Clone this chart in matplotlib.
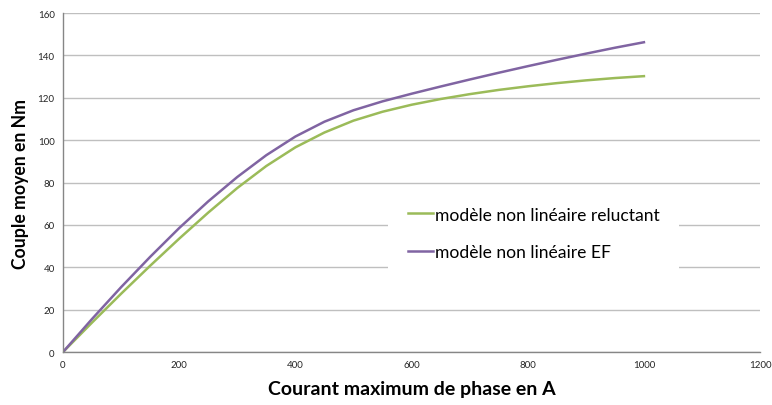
import matplotlib

matplotlib.use("Agg")
import matplotlib.pyplot as plt

plt.rcParams["font.family"] = ["Lato", "DejaVu Sans"]

# Courant maximum de phase (A)
courant = [0, 50, 100, 150, 200, 250, 300, 350, 400, 450, 500,
           550, 600, 650, 700, 750, 800, 850, 900, 950, 1000]
# modèle non linéaire reluctant
couple_reluctant = [0, 13.9, 27.5, 40.7, 53.5, 65.8, 77.4, 87.8, 96.6, 103.6, 109.2,
                    113.4, 116.7, 119.4, 121.7, 123.7, 125.4, 126.9, 128.2, 129.3, 130.2]
# modèle non linéaire EF
couple_ef = [0, 15.6, 30.6, 44.9, 58.5, 71.1, 82.6, 92.9, 101.7, 108.7, 114.1,
             118.3, 121.9, 125.3, 128.6, 131.8, 134.9, 137.9, 140.8, 143.6, 146.2]

GREEN = "#9bbb59"
PURPLE = "#8064a2"
GRID = "#bfbfbf"
AXIS = "#868686"

fig = plt.figure(figsize=(7.72, 4.06), dpi=100)
ax = fig.add_axes([0.0816, 0.1305, 0.903, 0.835])

ax.plot(courant, couple_reluctant, color=GREEN, lw=1.8, label="modèle non linéaire reluctant")
ax.plot(courant, couple_ef, color=PURPLE, lw=1.8, label="modèle non linéaire EF")

ax.set_xlim(0, 1200)
ax.set_ylim(0, 160)
ax.set_xticks(range(0, 1201, 200))
ax.set_yticks(range(0, 161, 20))
ax.tick_params(axis="both", length=0, labelsize=7, colors="#262626", pad=6)
ax.grid(axis="y", color=GRID, lw=1.0)
ax.set_axisbelow(True)
for s in ("top", "right"):
    ax.spines[s].set_visible(False)
for s in ("left", "bottom"):
    ax.spines[s].set_color(AXIS)
    ax.spines[s].set_linewidth(1.0)

ax.set_xlabel("Courant maximum de phase en A", fontsize=14, fontweight="bold", labelpad=8)
ax.set_ylabel("Couple moyen en Nm", fontsize=12.7, fontweight="bold", labelpad=6)

leg = ax.legend(loc="center", bbox_to_anchor=(0.691, 0.4224), bbox_transform=fig.transFigure,
                fontsize=12.6, frameon=True, fancybox=False, edgecolor="none",
                facecolor="white", framealpha=1.0, handlelength=1.45, handletextpad=0.1,
                labelspacing=1.25, borderpad=1.1, borderaxespad=0)
leg.get_frame().set_linewidth(0)

fig.savefig("out.png", dpi=100)
